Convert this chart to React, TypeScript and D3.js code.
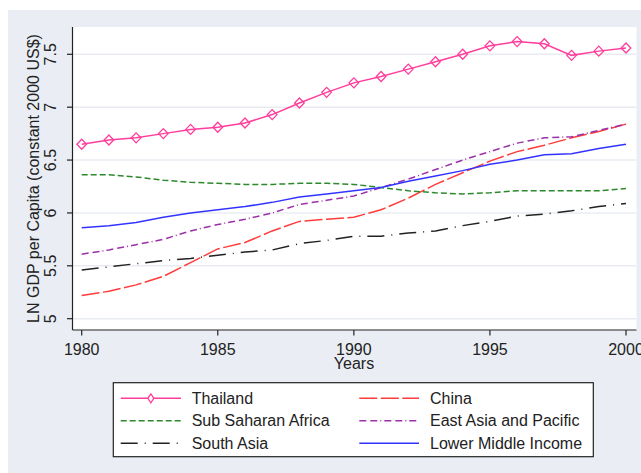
import React from "react";
import * as d3 from "d3";

// Years on the horizontal axis
const years: number[] = [
  1980, 1981, 1982, 1983, 1984, 1985, 1986, 1987, 1988, 1989, 1990,
  1991, 1992, 1993, 1994, 1995, 1996, 1997, 1998, 1999, 2000,
];

// Log GDP per capita (constant 2000 US$)
const thailand: number[] = [
  6.65, 6.69, 6.71, 6.75, 6.79, 6.81, 6.85, 6.93, 7.04, 7.14, 7.23,
  7.29, 7.36, 7.43, 7.5, 7.58, 7.62, 7.6, 7.49, 7.53, 7.56,
];
const china: number[] = [
  5.22, 5.26, 5.32, 5.4, 5.53, 5.66, 5.72, 5.83, 5.92, 5.94, 5.96,
  6.03, 6.14, 6.27, 6.38, 6.49, 6.58, 6.64, 6.71, 6.77, 6.84,
];
const subSaharanAfrica: number[] = [
  6.36, 6.36, 6.34, 6.31, 6.29, 6.28, 6.27, 6.27, 6.28, 6.28, 6.27,
  6.24, 6.21, 6.19, 6.18, 6.19, 6.21, 6.21, 6.21, 6.21, 6.23,
];
const eastAsiaPacific: number[] = [
  5.61, 5.65, 5.7, 5.75, 5.83, 5.89, 5.94, 6.0, 6.08, 6.12, 6.16,
  6.24, 6.32, 6.41, 6.5, 6.58, 6.66, 6.71, 6.72, 6.78, 6.84,
];
const southAsia: number[] = [
  5.46, 5.49, 5.52, 5.55, 5.57, 5.6, 5.63, 5.65, 5.71, 5.74, 5.78,
  5.78, 5.81, 5.83, 5.88, 5.92, 5.97, 5.99, 6.02, 6.06, 6.09,
];
const lowerMiddleIncome: number[] = [
  5.86, 5.88, 5.91, 5.96, 6.0, 6.03, 6.06, 6.1, 6.15, 6.18, 6.21,
  6.24, 6.3, 6.35, 6.4, 6.46, 6.5, 6.55, 6.56, 6.61, 6.65,
];

const yTicks: number[] = [5, 5.5, 6, 6.5, 7, 7.5];
const xTicks: number[] = [1980, 1985, 1990, 1995, 2000];

type Series = {
  name: string;
  values: number[];
  color: string;
  dash: string;
  marker?: boolean;
};

const series: Series[] = [
  { name: "Thailand", values: thailand, color: "#ff3d9c", dash: "", marker: true },
  { name: "China", values: china, color: "#ff3b3b", dash: "18 3.5" },
  { name: "Sub Saharan Africa", values: subSaharanAfrica, color: "#2b8a2b", dash: "6 3" },
  { name: "East Asia and Pacific", values: eastAsiaPacific, color: "#9b30a8", dash: "7 4 7 3 1 3" },
  { name: "South Asia", values: southAsia, color: "#222222", dash: "17 7 1 7" },
  { name: "Lower Middle Income", values: lowerMiddleIncome, color: "#3333ff", dash: "" },
];

const W = 641;
const H = 473;
const FONT = "'Liberation Sans', Arial, sans-serif";
const BG = "#eaeef4";

const plot = { left: 72.5, right: 636.5, top: 27, bottom: 330 };

const x = d3.scaleLinear().domain([1980, 2000]).range([81.7, 626]);
const y = d3.scaleLinear().domain([5, 7.5]).range([318.7, 54.3]);

const diamond = (cx: number, cy: number, rx: number, ry: number) =>
  `M${cx},${cy - ry}L${cx + rx},${cy}L${cx},${cy + ry}L${cx - rx},${cy}Z`;

export default function App() {
  const line = d3
    .line<number>()
    .x((_, i) => x(years[i]))
    .y((v) => y(v));

  const legendRows = [
    [series[0], series[1]],
    [series[2], series[3]],
    [series[4], series[5]],
  ];
  const rowY = [398.3, 420.7, 443.3];
  const cols = [
    { x0: 120.7, x1: 181, tx: 191.7 },
    { x0: 359.3, x1: 419, tx: 430 },
  ];

  return (
    <svg
      width={W}
      height={H}
      style={{ position: "absolute", left: 0, top: 0, display: "block" }}
      fontFamily={FONT}
    >
      <rect x={0} y={0} width={W} height={H} fill="#ffffff" />
      <rect x={8} y={10} width={W - 8} height={H - 10} fill={BG} />
      <rect
        x={plot.left}
        y={plot.top}
        width={plot.right - plot.left}
        height={plot.bottom - plot.top}
        fill="#ffffff"
      />

      {/* horizontal grid */}
      {yTicks.map((t) => (
        <line
          key={`g${t}`}
          x1={plot.left}
          x2={plot.right}
          y1={y(t)}
          y2={y(t)}
          stroke="#e8ecf2"
          strokeWidth={1.6}
        />
      ))}

      {/* series lines */}
      {series.map((s) => (
        <path
          key={s.name}
          d={line(s.values) || ""}
          fill="none"
          stroke={s.color}
          strokeWidth={1.5}
          strokeDasharray={s.dash || undefined}
        />
      ))}

      {/* Thailand markers */}
      {thailand.map((v, i) => (
        <path
          key={`m${i}`}
          d={diamond(x(years[i]), y(v), 4.8, 5)}
          fill="none"
          stroke="#ff3d9c"
          strokeWidth={1.3}
        />
      ))}

      {/* axes */}
      <line x1={plot.left} x2={plot.left} y1={plot.top} y2={plot.bottom} stroke="#222" strokeWidth={1.2} />
      <line x1={plot.left} x2={plot.right} y1={plot.bottom} y2={plot.bottom} stroke="#222" strokeWidth={1.2} />

      {yTicks.map((t) => (
        <g key={`yt${t}`}>
          <line x1={plot.left - 5.5} x2={plot.left} y1={y(t)} y2={y(t)} stroke="#222" strokeWidth={1.2} />
          <text
            transform={`translate(56,${y(t)}) rotate(-90)`}
            textAnchor="middle"
            fontSize={16}
            fill="#222"
          >
            {t}
          </text>
        </g>
      ))}

      {xTicks.map((t) => (
        <g key={`xt${t}`}>
          <line x1={x(t)} x2={x(t)} y1={plot.bottom} y2={plot.bottom + 5.5} stroke="#222" strokeWidth={1.2} />
          <text x={x(t)} y={355} textAnchor="middle" fontSize={16} fill="#222">
            {t}
          </text>
        </g>
      ))}

      <text x={354} y={369} textAnchor="middle" fontSize={16} fill="#222">
        Years
      </text>
      <text
        transform={`translate(39,178.5) rotate(-90)`}
        textAnchor="middle"
        fontSize={16}
        fill="#222"
      >
        LN GDP per Capita (constant 2000 US$)
      </text>

      {/* legend */}
      <rect x={113.3} y={382.7} width={480} height={74} fill="#ffffff" stroke="#222" strokeWidth={1.2} />
      {legendRows.map((row, r) =>
        row.map((s, c) => (
          <g key={s.name}>
            <line
              x1={cols[c].x0}
              x2={cols[c].x1}
              y1={rowY[r]}
              y2={rowY[r]}
              stroke={s.color}
              strokeWidth={1.5}
              strokeDasharray={s.dash || undefined}
            />
            {s.marker && (
              <path
                d={diamond((cols[c].x0 + cols[c].x1) / 2, rowY[r], 3, 4.5)}
                fill="#ffffff"
                stroke={s.color}
                strokeWidth={1.3}
              />
            )}
            <text x={cols[c].tx} y={rowY[r] + 5.7} fontSize={16} fill="#222">
              {s.name}
            </text>
          </g>
        ))
      )}
    </svg>
  );
}
